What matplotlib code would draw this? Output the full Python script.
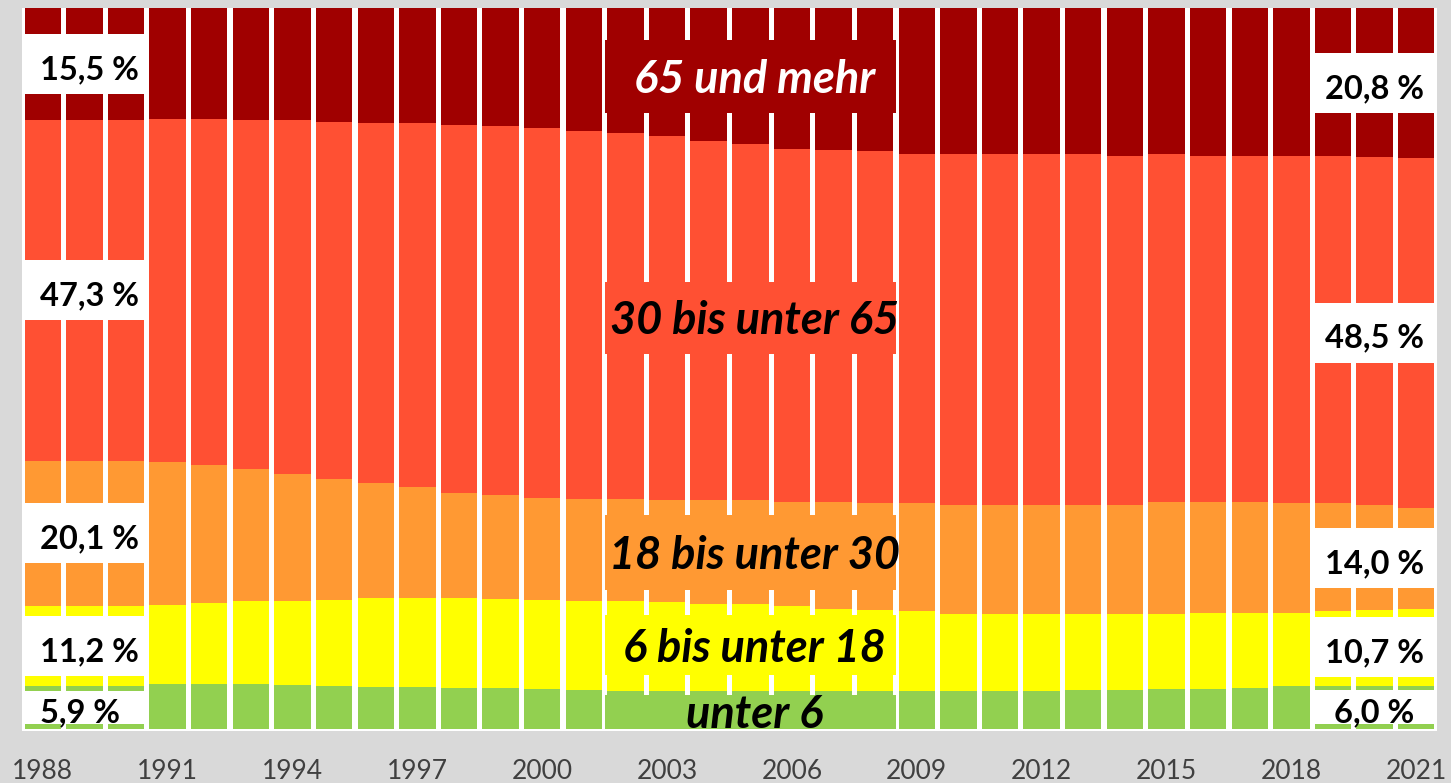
import numpy as np
import matplotlib
matplotlib.use('Agg')
import matplotlib.pyplot as plt
from matplotlib.patches import Rectangle

# Altersgruppen in % je Jahr
years = list(range(1988, 2022))
under_6 = [5.9, 5.9, 5.9, 6.3, 6.2, 6.2, 6.1, 5.9, 5.8, 5.8, 5.7, 5.7, 5.5, 5.4, 5.3, 5.2, 5.2,
           5.2, 5.2, 5.2, 5.2, 5.2, 5.2, 5.3, 5.3, 5.4, 5.4, 5.5, 5.6, 5.7, 5.9, 5.9, 6.0, 6.0]
from_6_to_18 = [11.2, 11.2, 11.2, 10.9, 11.3, 11.5, 11.7, 12.0, 12.3, 12.4, 12.5, 12.3, 12.4, 12.4, 12.4, 12.4, 12.2,
                12.1, 11.9, 11.5, 11.3, 11.2, 10.8, 10.7, 10.7, 10.6, 10.6, 10.5, 10.5, 10.4, 10.2, 10.4, 10.5, 10.7]
from_18_to_30 = [20.1, 20.1, 20.1, 19.8, 19.1, 18.3, 17.5, 16.8, 16.0, 15.3, 14.6, 14.4, 14.1, 14.1, 14.2, 14.1, 14.3,
                 14.4, 14.4, 14.8, 14.9, 14.9, 15.1, 15.1, 15.1, 15.1, 15.1, 15.5, 15.4, 15.4, 15.3, 15.0, 14.5, 14.0]
from_30_to_65 = [47.3, 47.3, 47.3, 47.6, 48.0, 48.5, 49.1, 49.5, 49.9, 50.5, 51.0, 51.2, 51.3, 51.1, 50.7, 50.5, 49.8,
                 49.4, 49.0, 48.8, 48.7, 48.5, 48.7, 48.7, 48.6, 48.6, 48.4, 48.2, 48.0, 48.0, 48.1, 48.2, 48.3, 48.5]
over_65 = [15.5, 15.5, 15.5, 15.4, 15.4, 15.5, 15.6, 15.8, 16.0, 16.0, 16.2, 16.4, 16.7, 17.0, 17.4, 17.8, 18.5,
           18.9, 19.5, 19.7, 19.9, 20.2, 20.2, 20.2, 20.3, 20.3, 20.5, 20.3, 20.5, 20.5, 20.5, 20.5, 20.7, 20.8]

group_names = ['unter 6', '6 bis unter 18', '18 bis unter 30', '30 bis unter 65', '65 und mehr']
group_colors = ['#92d050', '#ffff00', '#ff9933', '#ff5033', '#a00000']
name_colors = ['black', 'black', 'black', 'black', 'white']
tick_years = years[::3]

# Lage der Gruppennamen (Mitte der Schrift, in %) und Höhe der Kästen
name_y = [2.35, 11.6, 24.5, 57.0, 90.5]
name_h = [4.7, 8.3, 10.4, 10.0, 10.0]

plt.rcParams['font.family'] = ['Lato', 'DejaVu Sans']
PX = 100 / 721.5  # ein Pixel in %


def pct(v):
    return f'{v:.1f} %'.replace('.', ',')


fig = plt.figure(figsize=(14.51, 7.83), dpi=100, facecolor='#d9d9d9')
ax = fig.add_axes([0.01516, 0.0664, 0.97519, 0.924])
ax.set_facecolor('white')

x = np.arange(len(years))
shares = np.array([under_6, from_6_to_18, from_18_to_30, from_30_to_65, over_65])
bottoms = np.vstack([np.zeros(len(years)), np.cumsum(shares, axis=0)[:-1]])
tops = bottoms + shares

for i in range(len(group_names)):
    ax.bar(x, shares[i], bottom=bottoms[i], width=0.875, color=group_colors[i],
           linewidth=0, zorder=2)

# Wertekästen links (erstes Jahr) und rechts (letztes Jahr)
side_size = 23.5
side_cap = 0.72 * side_size * 100 / 72 * PX
sides = [(0, -0.5, 2.44, -0.07, 'left'), (-1, 30.46, 33.5, 32.0, 'center')]
for i in range(len(group_names)):
    for idx, x0, x1, tx, ha in sides:
        lo, hi = bottoms[i][idx], tops[i][idx]
        h = min(8.3, hi - lo - 1.3)
        yc = (lo + hi) / 2
        ax.add_patch(Rectangle((x0, yc - h / 2), x1 - x0, h, facecolor='white',
                               edgecolor='none', zorder=3))
        ax.text(tx, yc - 0.45 - side_cap / 2, pct(shares[i][idx]), ha=ha, va='baseline',
                fontsize=side_size, fontweight='bold', color='black', zorder=4)

# Gruppennamen in der Mitte
name_size = 32.5
name_cap = 0.72 * name_size * 100 / 72 * PX
for i in range(len(group_names)):
    yc = name_y[i]
    h = name_h[i]
    ax.add_patch(Rectangle((13.5, yc - h / 2), 7.0, h, facecolor=group_colors[i],
                           edgecolor='none', zorder=3))
    ax.text(17.1, yc - name_cap / 2, group_names[i], ha='center', va='baseline',
            fontsize=name_size, fontweight='bold', fontstyle='italic',
            color=name_colors[i], zorder=4)

ax.set_xlim(-0.5, 33.5)
ax.set_ylim(-0.28, 100.07)
ax.set_xticks(x[::3])
ax.set_xticklabels(tick_years)
ax.set_yticks([])
ax.tick_params(axis='x', length=0, pad=20, labelsize=19, labelcolor='#404040')
for s in ax.spines.values():
    s.set_visible(False)

fig.savefig('out.png', dpi=100, facecolor=fig.get_facecolor())
